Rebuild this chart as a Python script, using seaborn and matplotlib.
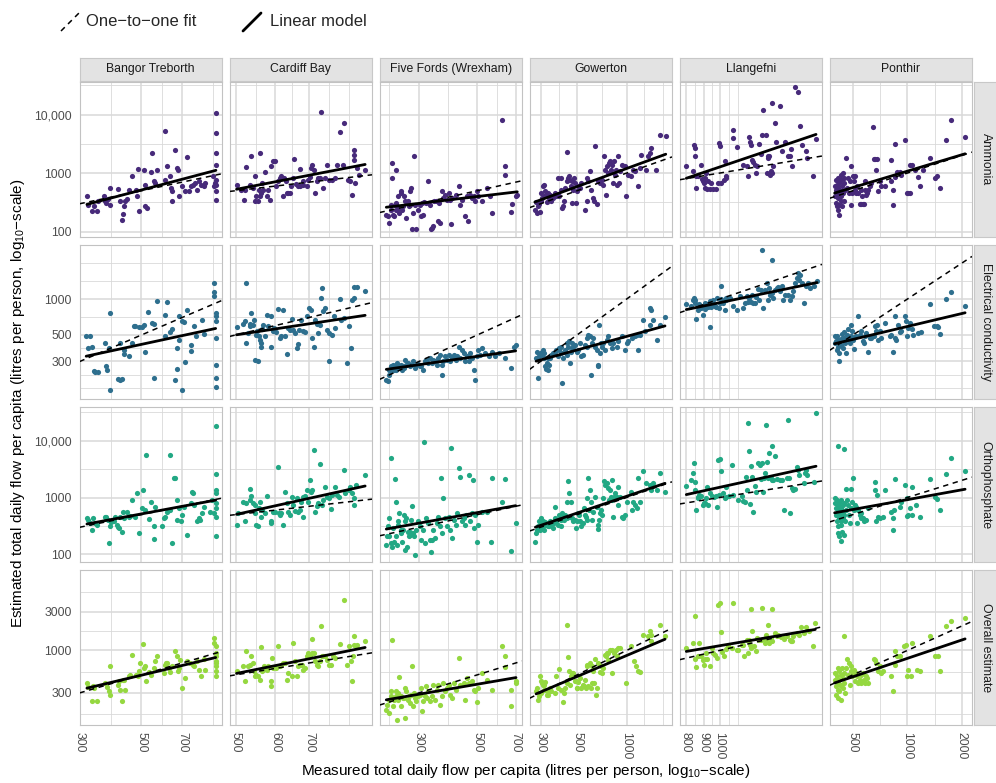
import numpy as np
import matplotlib.pyplot as plt
import matplotlib.lines as mlines
from matplotlib.ticker import FixedLocator, FixedFormatter, NullLocator
import seaborn as sns

sns.set_style("white")
plt.rcParams["font.family"] = ["Liberation Sans", "DejaVu Sans"]
plt.rcParams["mathtext.default"] = "regular"

sites = ["Bangor Treborth", "Cardiff Bay", "Five Fords (Wrexham)", "Gowerton", "Llangefni", "Ponthir"]
measures = ["Ammonia", "Electrical conductivity", "Orthophosphate", "Overall estimate"]

# (measured, estimated) litres per person per day
bangor_ammonia = [(318,400),(320,290),(332,228),(336,277),(346,228),(350,330),(365,400),(370,330),(374,308),(380,365),(384,556),(386,289),(410,533),(420,330),(425,156),(428,200),(433,277),(437,330),(443,360),(449,520),(463,877),(478,520),(482,400),(486,1170),(488,228),(509,1110),(516,634),(516,270),(524,250),(541,1040),(545,2190),(556,722),(561,675),(569,1110),(609,770),(609,5130),(618,1300),(636,877),(641,556),(645,487),(645,330),(662,2430),(672,1220),(676,1110),(681,400),(700,592),(720,487),(730,1870),(740,487),(755,592),(768,634),(778,690),(793,520),(804,722),(819,634),(838,592),(850,675),(906,877),(911,592),(927,10540),(927,4810),(927,2190),(927,1390),(927,770),(927,634),(927,487),(927,351),(920,690)]
bangor_ec = [(316,486),(320,387),(327,492),(332,400),(336,250),(341,246),(350,243),(370,432),(373,272),(376,252),(381,387),(386,763),(386,173),(410,215),(417,432),(420,210),(425,212),(431,375),(434,343),(449,336),(463,432),(469,589),(475,589),(488,582),(502,582),(509,607),(516,360),(527,773),(545,629),(556,618),(556,217),(569,973),(609,492),(609,739),(618,947),(636,525),(645,560),(662,210),(672,392),(672,258),(681,715),(681,455),(700,173),(700,650),(710,640),(720,296),(730,805),(751,413),(755,368),(772,596),(783,492),(826,662),(838,512),(911,1363),(911,1157),(911,1066),(925,763),(925,715),(925,650),(925,470),(925,281),(925,217),(925,182)]
bangor_ortho = [(318,433),(320,395),(327,354),(332,270),(334,433),(341,354),(346,330),(370,463),(374,450),(380,405),(381,157),(386,309),(388,366),(397,380),(403,463),(408,330),(410,300),(414,290),(417,463),(425,252),(428,567),(433,433),(443,550),(449,463),(456,475),(463,910),(472,463),(482,1190),(488,236),(502,650),(506,1365),(516,607),(520,5630),(531,415),(541,850),(553,315),(556,186),(561,694),(593,315),(601,433),(609,463),(618,567),(632,607),(636,5630),(645,157),(653,2190),(662,2190),(672,405),(672,910),(681,650),(694,380),(700,495),(714,694),(730,218),(751,795),(761,1270),(768,1190),(772,743),(793,380),(804,433),(815,405),(826,530),(838,694),(886,550),(898,910),(925,17800),(925,2610),(925,1365),(925,1190),(925,795),(925,650),(925,463),(925,206),(911,530)]
bangor_overall = [(318,396),(320,350),(332,235),(334,360),(336,343),(346,235),(370,396),(376,350),(381,312),(384,635),(386,284),(410,377),(414,414),(420,328),(425,240),(428,435),(433,435),(437,328),(449,478),(456,500),(463,884),(478,500),(484,478),(488,550),(495,698),(506,1210),(509,605),(516,635),(520,422),(531,535),(541,500),(553,605),(561,731),(569,843),(601,525),(609,665),(614,698),(618,710),(627,605),(636,535),(645,647),(662,972),(672,843),(676,550),(681,605),(691,753),(700,343),(720,455),(730,731),(747,698),(768,665),(776,635),(793,731),(804,577),(819,478),(838,782),(850,577),(911,1420),(911,1230),(925,1120),(925,927),(925,843),(925,731),(925,635),(925,550),(925,478),(925,698)]

cardiff_ammonia = [(502,634),(513,520),(519,351),(525,1270),(523,520),(533,634),(537,1920),(541,556),(546,877),(547,330),(550,410),(554,330),(556,520),(558,2190),(558,400),(561,456),(565,675),(567,520),(571,1030),(576,400),(580,520),(585,351),(589,1300),(594,1580),(598,1580),(603,592),(608,722),(613,820),(617,877),(622,400),(625,820),(629,722),(632,456),(637,456),(642,466),(645,608),(652,820),(655,1730),(659,655),(665,608),(672,592),(672,1170),(680,634),(682,722),(693,592),(698,770),(704,850),(706,1220),(711,1390),(715,1140),(720,456),(726,722),(729,840),(737,820),(740,11200),(745,556),(754,820),(760,1390),(768,750),(778,770),(790,820),(796,1390),(808,5000),(818,1390),(821,7120),(837,750),(847,722),(853,427),(860,2500),(860,2050),(860,1690),(863,675),(873,1220),(880,938),(906,1140)]
cardiff_ec = [(502,582),(517,622),(521,650),(525,1363),(525,432),(529,518),(533,622),(535,596),(537,763),(541,604),(544,662),(546,309),(550,497),(552,535),(554,300),(556,486),(558,455),(561,427),(561,394),(563,563),(567,607),(571,492),(576,739),(580,589),(589,725),(589,400),(594,535),(596,571),(603,525),(608,825),(613,470),(617,486),(622,814),(627,492),(632,347),(637,571),(642,553),(647,680),(652,546),(657,518),(662,387),(665,421),(670,546),(675,671),(682,535),(688,525),(693,715),(700,840),(706,814),(709,470),(715,400),(720,671),(726,622),(731,518),(737,607),(740,1020),(743,1240),(748,788),(754,840),(760,553),(766,518),(768,305),(778,502),(784,715),(790,571),(808,1000),(812,662),(821,693),(834,290),(842,589),(850,387),(853,988),(860,1020),(860,1260),(873,1260),(906,1180)]
cardiff_ortho = [(502,330),(505,530),(517,845),(523,380),(525,795),(533,1400),(533,910),(537,1055),(541,795),(546,530),(547,743),(550,330),(554,315),(556,650),(558,850),(561,463),(563,607),(571,530),(576,1055),(587,380),(589,354),(594,567),(598,550),(608,3410),(610,530),(613,495),(617,530),(622,330),(627,1270),(632,795),(637,550),(642,495),(647,1040),(652,743),(657,590),(662,975),(667,567),(672,607),(675,850),(680,1040),(682,450),(688,1075),(693,1365),(696,850),(704,2050),(706,1270),(711,1365),(717,6900),(720,567),(726,715),(731,795),(737,3910),(743,743),(748,910),(754,1520),(760,1040),(766,975),(775,625),(778,1115),(790,1560),(796,1115),(802,1040),(821,3070),(827,1190),(840,1365),(847,1560),(853,1190),(860,743),(860,975),(867,1670),(906,2510)]
cardiff_overall = [(502,550),(517,647),(521,414),(525,972),(529,635),(533,665),(537,843),(541,710),(544,550),(546,478),(550,500),(554,478),(558,435),(561,1100),(563,550),(567,577),(570,635),(576,577),(580,647),(587,414),(589,360),(591,804),(594,605),(603,605),(608,1120),(613,635),(617,665),(622,698),(627,710),(632,435),(637,525),(647,478),(652,1230),(657,731),(662,487),(665,635),(672,665),(677,665),(682,577),(688,605),(693,843),(698,927),(704,860),(709,1380),(711,927),(718,927),(720,731),(726,665),(731,635),(737,731),(740,1980),(743,843),(748,860),(754,860),(760,767),(766,665),(775,665),(781,843),(790,804),(808,1210),(821,4220),(834,665),(842,1120),(850,731),(853,414),(856,843),(860,1175),(860,1520),(867,1120),(873,1175),(906,1290)]

fivefords_ammonia = [(225,195),(228,183),(231,140),(234,289),(235,237),(237,1480),(237,820),(238,195),(240,183),(242,289),(244,308),(245,1140),(245,237),(247,270),(249,245),(250,400),(252,208),(255,456),(256,487),(258,237),(260,270),(263,400),(266,330),(268,171),(270,308),(272,330),(274,270),(276,487),(278,289),(280,556),(282,111),(284,208),(287,1970),(289,289),(293,111),(297,237),(302,289),(306,183),(308,308),(311,195),(313,316),(320,308),(325,722),(329,289),(333,111),(337,115),(339,123),(342,330),(347,330),(355,150),(357,308),(360,140),(366,487),(371,375),(377,427),(382,351),(389,456),(394,351),(397,137),(402,375),(413,427),(424,608),(430,289),(439,351),(450,183),(455,400),(460,150),(470,427),(477,375),(484,410),(491,330),(498,487),(505,400),(521,330),(544,556),(560,400),(570,208),(622,8110),(636,1300),(636,938),(669,213),(679,300),(700,400),(710,427)]
fivefords_ec = [(225,210),(228,204),(230,255),(231,231),(234,272),(235,247),(238,281),(240,255),(244,281),(245,255),(247,290),(249,263),(250,275),(252,263),(256,281),(258,255),(260,272),(263,263),(266,309),(268,281),(272,290),(276,272),(280,281),(284,300),(289,263),(293,281),(297,286),(302,272),(306,275),(311,255),(315,300),(320,309),(325,290),(329,320),(335,290),(339,309),(345,300),(350,281),(355,320),(360,341),(366,281),(368,231),(371,300),(377,330),(382,309),(389,341),(394,300),(400,320),(406,341),(413,309),(418,330),(424,400),(430,320),(438,375),(443,352),(450,300),(455,330),(465,300),(470,352),(477,320),(484,255),(491,210),(498,330),(505,375),(513,341),(521,387),(535,352),(553,330),(570,363),(586,330),(605,352),(636,320),(669,263),(688,400),(700,413)]
fivefords_ortho = [(225,147),(227,206),(228,309),(230,433),(231,206),(234,157),(235,4920),(237,137),(238,290),(240,168),(242,2100),(244,850),(245,206),(247,147),(249,380),(250,330),(252,530),(255,270),(256,236),(258,168),(260,270),(263,495),(264,380),(266,120),(268,433),(270,137),(272,252),(274,206),(276,220),(278,252),(280,405),(282,710),(284,236),(287,206),(289,98),(293,270),(297,380),(302,309),(306,180),(311,270),(313,9660),(315,157),(320,433),(325,354),(329,180),(333,108),(335,180),(339,270),(345,193),(350,354),(355,463),(360,309),(363,2190),(368,236),(371,975),(377,433),(382,309),(389,463),(394,270),(397,7380),(400,193),(406,405),(413,330),(418,530),(424,3290),(430,2340),(438,380),(443,433),(450,330),(452,495),(465,2500),(467,380),(477,530),(481,2050),(484,290),(491,495),(498,168),(505,330),(521,567),(544,567),(566,162),(570,2190),(622,825),(636,2100),(669,116),(700,354)]
fivefords_overall = [(225,185),(227,214),(230,247),(231,169),(234,271),(235,312),(237,1330),(238,204),(240,247),(244,312),(245,271),(247,139),(249,247),(250,298),(252,470),(255,271),(256,204),(260,259),(263,259),(264,343),(266,146),(268,312),(272,247),(274,271),(276,224),(280,284),(282,635),(284,204),(287,298),(289,259),(293,235),(297,271),(302,284),(306,343),(308,177),(311,235),(315,271),(320,360),(322,259),(325,312),(329,235),(335,271),(339,377),(345,247),(350,328),(355,377),(360,214),(366,271),(371,396),(377,312),(382,343),(389,377),(394,284),(400,259),(406,396),(413,328),(424,804),(430,377),(443,396),(450,247),(455,455),(465,396),(477,414),(484,328),(491,312),(498,228),(505,343),(521,525),(544,435),(570,328),(622,1140),(636,843),(636,620),(669,328),(669,208),(700,414),(702,396)]

gowerton_ammonia = [(277,237),(282,316),(286,208),(289,270),(292,300),(296,213),(300,330),(303,456),(306,376),(310,592),(314,400),(317,634),(320,487),(324,400),(328,316),(331,456),(339,376),(344,427),(348,330),(356,376),(365,456),(373,400),(383,820),(391,400),(397,520),(401,820),(405,253),(410,270),(417,330),(421,556),(432,722),(437,2250),(442,820),(446,877),(452,770),(458,592),(463,722),(467,308),(473,520),(479,820),(485,675),(490,308),(497,487),(508,592),(520,556),(532,675),(558,231),(571,820),(578,330),(585,722),(599,1070),(607,520),(627,376),(636,330),(642,2930),(657,300),(673,722),(689,675),(705,770),(722,634),(732,1920),(739,1140),(747,427),(756,1300),(774,1000),(782,1480),(792,1580),(802,1140),(820,1390),(830,675),(841,1580),(850,938),(859,1140),(870,634),(881,1920),(900,675),(912,1070),(933,1390),(978,1300),(988,400),(1025,938),(1063,877),(1100,1140),(1122,1070),(1175,592),(1202,1220),(1231,2050),(1319,1140),(1350,1920),(1383,2190),(1415,2670),(1504,1140),(1593,4500),(1730,4220)]
gowerton_ec = [(282,319),(286,363),(289,217),(292,336),(296,347),(300,352),(303,341),(306,363),(310,375),(314,319),(317,352),(320,272),(324,259),(328,290),(331,319),(335,255),(339,281),(344,319),(348,341),(356,352),(365,363),(373,375),(383,330),(386,387),(391,375),(397,352),(401,400),(405,197),(410,319),(417,363),(421,375),(432,341),(437,427),(442,400),(446,441),(452,290),(458,363),(463,427),(467,387),(473,400),(485,413),(497,363),(508,375),(520,427),(532,330),(545,341),(558,413),(571,470),(578,400),(585,502),(599,486),(607,231),(613,427),(627,470),(642,400),(657,375),(667,281),(673,272),(680,607),(689,352),(698,427),(705,400),(722,427),(739,375),(756,455),(774,486),(792,427),(811,387),(830,427),(870,400),(891,441),(933,486),(978,375),(1001,427),(1025,441),(1073,470),(1122,486),(1150,502),(1175,375),(1202,502),(1259,671),(1290,535),(1383,840),(1383,607),(1415,814),(1449,671),(1522,455),(1593,607),(1712,706)]
gowerton_ortho = [(279,168),(282,236),(286,270),(289,309),(292,380),(296,270),(300,433),(303,354),(306,290),(310,380),(314,330),(317,270),(320,365),(324,330),(331,309),(339,309),(344,380),(348,330),(356,290),(361,354),(365,433),(369,694),(373,380),(383,330),(391,495),(397,405),(401,309),(405,530),(410,433),(417,405),(421,495),(432,433),(437,850),(442,1990),(446,1190),(452,463),(458,850),(463,433),(473,380),(485,405),(490,290),(497,380),(508,530),(513,495),(520,380),(532,309),(545,354),(551,650),(558,495),(564,463),(571,405),(578,975),(585,2190),(591,607),(599,1365),(607,850),(613,405),(627,567),(642,1040),(657,694),(667,277),(673,330),(680,405),(689,530),(698,607),(705,495),(722,975),(732,1920),(739,1670),(756,1790),(766,1460),(782,910),(792,1365),(802,1040),(811,2050),(820,910),(830,463),(841,1040),(850,1190),(870,1040),(881,743),(891,1560),(912,1040),(933,463),(956,433),(978,495),(1001,850),(1063,1270),(1084,607),(1100,850),(1122,743),(1150,650),(1175,2190),(1202,850),(1259,2870),(1319,1790),(1383,1670),(1415,1365),(1449,1790),(1522,1365),(1593,2680),(1712,1225)]
gowerton_overall = [(282,312),(286,343),(289,247),(292,271),(296,478),(300,414),(303,298),(306,396),(310,377),(314,377),(317,328),(320,403),(324,328),(328,284),(331,284),(339,312),(344,343),(348,312),(365,298),(373,487),(383,343),(391,588),(401,328),(410,228),(417,298),(421,343),(432,396),(437,2070),(442,827),(446,550),(452,377),(458,478),(463,525),(467,500),(473,525),(485,414),(490,414),(497,343),(503,343),(508,403),(520,455),(532,343),(545,377),(551,360),(558,435),(564,343),(571,635),(578,665),(585,360),(599,698),(607,343),(613,396),(619,635),(627,550),(636,396),(642,782),(649,284),(657,343),(673,698),(689,535),(698,635),(713,525),(722,605),(739,884),(747,843),(756,927),(766,767),(774,927),(792,1020),(811,1020),(820,525),(841,927),(859,1020),(870,843),(891,1070),(912,1070),(988,396),(1063,1120),(1113,731),(1133,635),(1175,550),(1202,535),(1259,1560),(1350,1490),(1383,1720),(1404,1290),(1415,1560),(1593,2070),(1712,1490)]

llangefni_ammonia = [(804,1300),(839,1070),(843,3040),(849,2670),(849,1970),(857,556),(857,900),(869,877),(887,1390),(889,790),(894,722),(903,675),(906,556),(911,820),(915,1000),(923,533),(927,722),(941,533),(946,675),(956,533),(978,533),(989,690),(993,3250),(1000,2850),(1010,690),(1029,770),(1039,1580),(1043,820),(1045,877),(1093,5480),(1093,3950),(1118,2770),(1168,1390),(1193,1300),(1206,877),(1211,4100),(1219,3460),(1227,3040),(1237,1690),(1246,1520),(1259,1390),(1273,1000),(1281,1300),(1292,3160),(1310,2130),(1321,4510),(1330,12000),(1351,4510),(1360,1000),(1369,1800),(1375,1970),(1381,1920),(1390,938),(1399,1070),(1405,1000),(1411,16000),(1421,1300),(1436,7120),(1442,3460),(1484,14000),(1507,2340),(1534,3340),(1568,1920),(1586,1970),(1597,2560),(1610,1330),(1639,30000),(1669,24700),(1694,6420),(1720,3040),(1757,2340),(1770,1800),(1839,877),(1880,3800)]
llangefni_ec = [(804,914),(830,879),(839,975),(843,1020),(849,975),(851,926),(857,680),(867,868),(869,814),(875,914),(887,841),(894,739),(903,868),(906,926),(911,824),(915,868),(923,914),(927,857),(936,956),(941,582),(946,857),(950,926),(956,975),(968,868),(978,857),(986,1020),(993,841),(1000,926),(1009,1278),(1010,1000),(1023,926),(1039,814),(1043,1020),(1045,988),(1069,1020),(1093,879),(1118,803),(1143,1053),(1168,841),(1181,926),(1193,1053),(1201,937),(1211,1020),(1227,937),(1237,1087),(1246,926),(1259,926),(1273,1040),(1287,1213),(1292,975),(1310,1198),(1321,2560),(1330,841),(1345,1182),(1360,1363),(1369,988),(1381,1238),(1390,1087),(1405,2110),(1411,1123),(1421,1020),(1436,1198),(1452,1238),(1468,1260),(1484,1160),(1500,1278),(1517,975),(1534,1087),(1568,1087),(1586,988),(1603,1053),(1621,1160),(1639,1363),(1657,1500),(1669,1655),(1681,1435),(1694,1600),(1713,1363),(1732,926),(1757,1278),(1780,1363),(1810,1238),(1850,1278),(1892,1405)]
llangefni_ortho = [(804,1600),(827,2050),(839,2680),(843,4020),(849,1910),(851,1365),(857,607),(867,1040),(869,975),(875,1115),(881,1055),(887,1075),(894,743),(903,795),(911,795),(915,975),(923,1520),(927,743),(941,1190),(950,1075),(961,1040),(978,1055),(986,694),(989,4480),(993,1115),(1000,4730),(1009,2870),(1023,1190),(1039,975),(1043,1500),(1045,1040),(1062,1075),(1086,3760),(1093,1115),(1126,910),(1155,1075),(1168,885),(1181,850),(1186,2280),(1193,1365),(1201,20400),(1211,6450),(1219,774),(1232,3610),(1237,2280),(1246,567),(1259,1600),(1273,1270),(1287,4020),(1301,3760),(1310,2100),(1321,4020),(1330,1270),(1339,2190),(1345,2680),(1351,19000),(1360,4300),(1375,2190),(1381,6030),(1399,2190),(1405,2050),(1411,7900),(1421,2050),(1436,5400),(1452,2100),(1484,2050),(1500,2050),(1527,607),(1551,2190),(1568,23400),(1575,2190),(1586,530),(1603,1460),(1621,1365),(1639,1400),(1657,3510),(1675,3070),(1681,2510),(1732,1790),(1750,2730),(1757,3070),(1770,2510),(1850,1840),(1880,30600)]
llangefni_overall = [(804,1070),(839,1230),(849,2680),(851,782),(857,620),(867,860),(875,1230),(887,860),(894,767),(903,665),(906,782),(915,927),(923,782),(941,647),(950,1070),(956,927),(968,884),(986,804),(989,3660),(1000,3840),(1009,1670),(1018,945),(1029,843),(1045,1040),(1057,1120),(1081,1070),(1093,3840),(1118,1020),(1126,1000),(1155,1175),(1168,1175),(1176,843),(1193,1355),(1206,927),(1211,1355),(1219,1175),(1227,1070),(1232,3240),(1237,1720),(1254,1120),(1265,972),(1281,1420),(1292,1355),(1310,1355),(1321,3330),(1330,1380),(1345,1230),(1351,1560),(1360,1380),(1375,2070),(1381,1230),(1399,1420),(1405,3240),(1411,1290),(1436,1640),(1452,1490),(1468,1560),(1494,1460),(1507,1490),(1527,1380),(1551,1490),(1586,1355),(1597,1290),(1610,1290),(1621,1490),(1657,1640),(1681,1560),(1706,1940),(1732,1640),(1757,1940),(1790,1720),(1839,1140),(1871,2170)]

ponthir_ammonia = [(396,400),(398,592),(404,770),(404,520),(404,308),(409,634),(409,270),(413,722),(413,456),(413,237),(416,820),(416,556),(416,376),(421,195),(421,289),(421,675),(427,938),(427,487),(427,330),(431,400),(431,770),(435,592),(435,270),(440,1000),(440,456),(445,820),(445,330),(449,675),(453,520),(459,1800),(465,556),(469,820),(473,456),(479,722),(485,289),(489,1300),(494,456),(500,877),(506,722),(511,520),(515,877),(522,456),(528,592),(533,456),(544,300),(552,520),(556,300),(561,400),(568,300),(576,300),(580,520),(585,722),(593,427),(601,456),(606,520),(618,592),(632,690),(646,6120),(654,1730),(665,1730),(674,1140),(683,1730),(688,487),(702,722),(718,592),(750,592),(811,1690),(817,722),(834,506),(834,289),(852,850),(859,3160),(881,1030),(909,1030),(928,938),(969,3620),(990,466),(1011,466),(1032,466),(1032,1390),(1063,1390),(1097,1140),(1149,850),(1173,608),(1224,1110),(1331,1800),(1422,820),(1452,900),(1517,556),(1645,3700),(1745,7920),(2088,4100)]
ponthir_ec = [(396,486),(398,427),(404,441),(409,375),(409,492),(413,400),(416,455),(421,300),(421,352),(427,413),(431,460),(435,512),(440,387),(445,470),(449,525),(453,427),(459,356),(465,502),(469,563),(473,455),(479,427),(485,612),(489,486),(494,535),(500,455),(506,380),(515,480),(522,486),(533,715),(544,502),(556,535),(568,441),(576,427),(580,492),(593,518),(606,363),(618,470),(632,470),(654,486),(659,589),(674,535),(683,607),(688,455),(702,535),(718,470),(750,629),(800,486),(817,502),(834,363),(852,470),(859,724),(870,455),(890,607),(909,525),(928,535),(969,724),(978,650),(990,492),(1011,567),(1032,629),(1055,563),(1076,502),(1149,518),(1198,525),(1331,915),(1412,596),(1452,589),(1485,582),(1517,512),(1645,1000),(1745,1138),(2088,879)]
ponthir_ortho = [(396,975),(398,795),(404,650),(404,495),(409,910),(409,380),(413,694),(413,309),(416,743),(416,567),(416,236),(421,795),(421,530),(421,433),(421,206),(427,650),(427,330),(427,175),(431,910),(431,607),(431,380),(435,495),(435,252),(440,743),(440,567),(440,433),(445,795),(445,220),(449,495),(453,380),(459,1400),(459,607),(465,910),(469,743),(473,495),(479,354),(485,650),(489,1400),(494,850),(500,2190),(506,607),(511,743),(522,694),(528,354),(533,607),(544,495),(552,433),(556,530),(568,433),(576,380),(580,405),(593,405),(606,650),(659,1840),(665,1365),(674,380),(683,1115),(688,463),(702,433),(734,463),(756,1330),(811,567),(834,433),(834,270),(846,607),(859,2100),(909,675),(928,850),(969,1670),(990,975),(1000,475),(1011,495),(1032,650),(1063,1520),(1063,495),(1121,743),(1173,463),(1331,2100),(1422,1040),(1452,935),(1517,607),(1645,2610),(1745,4920),(2088,2980),(413,7900),(449,7000)]
ponthir_overall = [(396,525),(398,435),(404,360),(404,284),(409,478),(413,605),(413,328),(416,396),(416,259),(421,550),(421,435),(421,312),(427,360),(427,247),(431,500),(431,377),(435,605),(440,455),(440,343),(445,1490),(445,525),(449,396),(453,298),(459,605),(465,782),(469,500),(473,698),(479,377),(485,550),(489,635),(494,478),(500,500),(506,577),(511,414),(522,525),(528,478),(533,396),(544,435),(552,500),(556,396),(568,525),(576,435),(580,396),(593,478),(601,455),(606,396),(654,782),(665,753),(674,698),(688,550),(702,635),(712,525),(734,550),(817,478),(834,312),(852,972),(859,665),(881,843),(909,843),(960,1120),(978,1175),(990,487),(1011,577),(1045,487),(1063,1230),(1138,577),(1173,550),(1331,1520),(1422,860),(1470,843),(1517,550),(1645,2010),(1745,2280),(2088,2500)]

# facet axis settings (limits, labelled breaks, extra grid lines)
site_xlim = [(299, 975), (486, 935), (212, 740), (257, 1888), (769, 1955), (371, 2280)]
site_xbreaks = [[300, 500, 700], [500, 600, 700], [300, 500, 700], [300, 500, 1000], [800, 900, 1000], [500, 1000, 2000]]
site_xminor = [[387, 592, 905], [548, 649, 767, 841], [231, 387, 592], [387, 707, 1282, 1658], [849, 949, 1061, 1128], [707, 1414]]
measure_ylim = [(82, 35900), (144, 2860), (73, 38500), (121, 9800)]
measure_ybreaks = [[100, 1000, 10000], [300, 500, 1000], [100, 1000, 10000], [300, 1000, 3000]]
measure_yminor = [[316, 3162, 31623], [180, 232, 387, 707, 1414, 2000], [316, 3162, 31623], [164, 548, 1732, 5196]]

panels = {
    ("Bangor Treborth", "Ammonia"): bangor_ammonia, ("Bangor Treborth", "Electrical conductivity"): bangor_ec,
    ("Bangor Treborth", "Orthophosphate"): bangor_ortho, ("Bangor Treborth", "Overall estimate"): bangor_overall,
    ("Cardiff Bay", "Ammonia"): cardiff_ammonia, ("Cardiff Bay", "Electrical conductivity"): cardiff_ec,
    ("Cardiff Bay", "Orthophosphate"): cardiff_ortho, ("Cardiff Bay", "Overall estimate"): cardiff_overall,
    ("Five Fords (Wrexham)", "Ammonia"): fivefords_ammonia, ("Five Fords (Wrexham)", "Electrical conductivity"): fivefords_ec,
    ("Five Fords (Wrexham)", "Orthophosphate"): fivefords_ortho, ("Five Fords (Wrexham)", "Overall estimate"): fivefords_overall,
    ("Gowerton", "Ammonia"): gowerton_ammonia, ("Gowerton", "Electrical conductivity"): gowerton_ec,
    ("Gowerton", "Orthophosphate"): gowerton_ortho, ("Gowerton", "Overall estimate"): gowerton_overall,
    ("Llangefni", "Ammonia"): llangefni_ammonia, ("Llangefni", "Electrical conductivity"): llangefni_ec,
    ("Llangefni", "Orthophosphate"): llangefni_ortho, ("Llangefni", "Overall estimate"): llangefni_overall,
    ("Ponthir", "Ammonia"): ponthir_ammonia, ("Ponthir", "Electrical conductivity"): ponthir_ec,
    ("Ponthir", "Orthophosphate"): ponthir_ortho, ("Ponthir", "Overall estimate"): ponthir_overall,
}

cmap = sns.color_palette("viridis", as_cmap=True)
point_colors = [cmap(0.12), cmap(0.36), cmap(0.6), cmap(0.84)]

W, H = 996, 783
fig = plt.figure(figsize=(W / 100, H / 100), dpi=100)


def rect(left, top, w, h):
    return [left / W, 1 - (top + h) / H, w / W, h / H]


col_left = [79.5 + 150 * i for i in range(6)]
row_top = [82 + 162.7 * j for j in range(4)]
pw, ph = 142.5, 154.7
grid_c = "#d9d9d9"
tick_fmt = lambda v: f"{v:,}" if v >= 10000 else str(v)

for j, meas in enumerate(measures):
    for i, site in enumerate(sites):
        ax = fig.add_axes(rect(col_left[i], row_top[j], pw, ph))
        ax.set_xscale("log")
        ax.set_yscale("log")
        ax.set_xlim(*site_xlim[i])
        ax.set_ylim(*measure_ylim[j])

        for v in site_xminor[i]:
            ax.axvline(v, color=grid_c, lw=0.6, zorder=0)
        for v in site_xbreaks[i]:
            ax.axvline(v, color=grid_c, lw=1.1, zorder=0)
        for v in measure_yminor[j]:
            ax.axhline(v, color=grid_c, lw=0.6, zorder=0)
        for v in measure_ybreaks[j]:
            ax.axhline(v, color=grid_c, lw=1.1, zorder=0)

        pts = np.array(panels[(site, meas)], dtype=float)
        sns.scatterplot(x=pts[:, 0], y=pts[:, 1], color=point_colors[j], s=14,
                        linewidth=0, ax=ax, legend=False, zorder=2)

        # one-to-one line and log-log linear model
        ax.axline((1, 1), (10, 10), color="black", ls=(0, (3.5, 3)), lw=1.1, zorder=3)
        lx, ly = np.log10(pts[:, 0]), np.log10(pts[:, 1])
        slope, icpt = np.polyfit(lx, ly, 1)
        xs = np.linspace(lx.min(), lx.max(), 20)
        ax.plot(10 ** xs, 10 ** (icpt + slope * xs), color="black", lw=2.0, zorder=4)

        ax.xaxis.set_minor_locator(NullLocator())
        ax.yaxis.set_minor_locator(NullLocator())
        ax.xaxis.set_major_locator(FixedLocator(site_xbreaks[i]))
        ax.yaxis.set_major_locator(FixedLocator(measure_ybreaks[j]))
        ax.xaxis.set_major_formatter(FixedFormatter([tick_fmt(v) for v in site_xbreaks[i]]))
        ax.yaxis.set_major_formatter(FixedFormatter([tick_fmt(v) for v in measure_ybreaks[j]]))
        ax.tick_params(axis="both", length=3.5, width=0.8, color="#333333",
                       labelsize=8.8, labelcolor="#4d4d4d", pad=2)
        if i > 0:
            ax.tick_params(axis="y", length=0, labelleft=False)
        if j < 3:
            ax.tick_params(axis="x", length=0, labelbottom=False)
        else:
            plt.setp(ax.get_xticklabels(), rotation=270, ha="center", va="top")
        for sp in ax.spines.values():
            sp.set_color("#c2c2c2")
            sp.set_linewidth(0.8)
        ax.set_xlabel("")
        ax.set_ylabel("")

# facet strips
for i, site in enumerate(sites):
    sax = fig.add_axes(rect(col_left[i], 57.5, pw, 23))
    sax.set_facecolor("#e3e3e3")
    sax.set_xticks([])
    sax.set_yticks([])
    for sp in sax.spines.values():
        sp.set_color("#c8c8c8")
        sp.set_linewidth(0.8)
    sax.text(0.5, 0.5, site, ha="center", va="center", fontsize=8.8, color="#1a1a1a",
             transform=sax.transAxes)
for j, meas in enumerate(measures):
    sax = fig.add_axes(rect(974, row_top[j], 23, ph))
    sax.set_facecolor("#e3e3e3")
    sax.set_xticks([])
    sax.set_yticks([])
    for sp in sax.spines.values():
        sp.set_color("#c8c8c8")
        sp.set_linewidth(0.8)
    sax.text(0.5, 0.5, meas, ha="center", va="center", rotation=270, fontsize=8.8,
             color="#1a1a1a", transform=sax.transAxes)

# axis titles
fig.text(18 / W, 1 - 403 / H,
         "Estimated total daily flow per capita (litres per person, log$_{10}$\u2212scale)",
         rotation=90, ha="center", va="center", fontsize=11, color="black")
fig.text(526 / W, 1 - 771 / H,
         "Measured total daily flow per capita (litres per person, log$_{10}$\u2212scale)",
         ha="center", va="center", fontsize=11, color="black")

# legend
fig.add_artist(mlines.Line2D([61 / W, 79 / W], [1 - 31 / H, 1 - 13 / H], transform=fig.transFigure,
                             color="black", ls=(0, (3.5, 3)), lw=1.1))
fig.text(86 / W, 1 - 22 / H, "One\u2212to\u2212one fit", ha="left", va="center", fontsize=12)
fig.add_artist(mlines.Line2D([243 / W, 261 / W], [1 - 31 / H, 1 - 13 / H], transform=fig.transFigure,
                             color="black", lw=2.0))
fig.text(270 / W, 1 - 22 / H, "Linear model", ha="left", va="center", fontsize=12)

fig.savefig("out.png", dpi=100)
